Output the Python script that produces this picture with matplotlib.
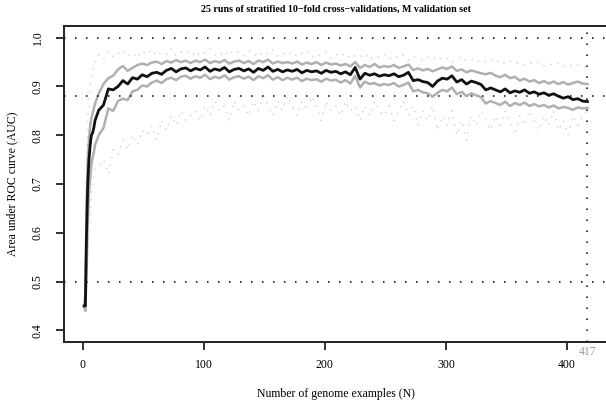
import numpy as np
import matplotlib
matplotlib.use("Agg")
import matplotlib.pyplot as plt

plt.rcParams['font.family'] = ['Liberation Serif', 'DejaVu Serif']

# number of genome examples: first ten one by one, then every 4th
n_early = [1, 2, 3, 4, 5, 6, 7, 8, 9, 10]
n_late = list(range(13, 418, 4))
n_examples = np.array(n_early + n_late)

auc_mean = [
    0.45, 0.45, 0.60, 0.70, 0.75, 0.78, 0.80, 0.805, 0.815, 0.83,
    0.851, 0.862, 0.895, 0.893, 0.900, 0.912, 0.905, 0.918, 0.915, 0.924,
    0.920, 0.927, 0.929, 0.925, 0.933, 0.937, 0.930, 0.936, 0.938, 0.932,
    0.937, 0.934, 0.940, 0.931, 0.936, 0.933, 0.939, 0.930, 0.935, 0.937,
    0.932, 0.936, 0.929, 0.937, 0.933, 0.940, 0.931, 0.935, 0.930, 0.934,
    0.931, 0.935, 0.928, 0.933, 0.930, 0.932, 0.927, 0.933, 0.929, 0.931,
    0.926, 0.930, 0.924, 0.939, 0.915, 0.927, 0.923, 0.926, 0.921, 0.924,
    0.922, 0.926, 0.920, 0.923, 0.929, 0.912, 0.914, 0.910, 0.908, 0.900,
    0.911, 0.917, 0.915, 0.922, 0.909, 0.914, 0.905, 0.911, 0.908, 0.904,
    0.893, 0.897, 0.893, 0.889, 0.895, 0.887, 0.891, 0.888, 0.893, 0.886,
    0.889, 0.884, 0.887, 0.882, 0.885, 0.880, 0.876, 0.879, 0.873, 0.875,
    0.870, 0.869]

auc_upper = [
    0.45, 0.47, 0.66, 0.75, 0.79, 0.82, 0.835, 0.845, 0.855, 0.865,
    0.885, 0.905, 0.917, 0.922, 0.935, 0.942, 0.932, 0.938, 0.944, 0.947,
    0.944, 0.949, 0.951, 0.946, 0.952, 0.949, 0.954, 0.950, 0.953, 0.948,
    0.953, 0.950, 0.955, 0.948, 0.952, 0.949, 0.954, 0.947, 0.951, 0.953,
    0.948, 0.952, 0.946, 0.953, 0.950, 0.955, 0.947, 0.951, 0.948, 0.950,
    0.947, 0.951, 0.945, 0.949, 0.946, 0.950, 0.944, 0.949, 0.945, 0.947,
    0.943, 0.946, 0.941, 0.950, 0.938, 0.944, 0.940, 0.946, 0.939, 0.942,
    0.940, 0.944, 0.938, 0.941, 0.945, 0.934, 0.937, 0.933, 0.936, 0.931,
    0.935, 0.939, 0.936, 0.941, 0.932, 0.935, 0.929, 0.933, 0.930, 0.927,
    0.925, 0.928, 0.922, 0.919, 0.924, 0.917, 0.920, 0.912, 0.916, 0.910,
    0.913, 0.907, 0.911, 0.906, 0.910, 0.905, 0.909, 0.904, 0.907, 0.910,
    0.906, 0.905]

auc_lower = [
    0.45, 0.44, 0.52, 0.62, 0.68, 0.71, 0.74, 0.755, 0.765, 0.78,
    0.800, 0.815, 0.855, 0.850, 0.870, 0.875, 0.872, 0.890, 0.893, 0.902,
    0.900, 0.908, 0.912, 0.907, 0.915, 0.918, 0.913, 0.920, 0.922, 0.916,
    0.921, 0.918, 0.924, 0.915, 0.920, 0.917, 0.923, 0.914, 0.919, 0.921,
    0.916, 0.920, 0.913, 0.921, 0.917, 0.923, 0.914, 0.919, 0.913, 0.918,
    0.914, 0.918, 0.911, 0.916, 0.913, 0.915, 0.910, 0.916, 0.912, 0.914,
    0.908, 0.913, 0.906, 0.922, 0.898, 0.910, 0.905, 0.907, 0.902, 0.905,
    0.903, 0.907, 0.900, 0.903, 0.908, 0.890, 0.893, 0.888, 0.886, 0.879,
    0.887, 0.893, 0.890, 0.898, 0.884, 0.889, 0.880, 0.886, 0.882, 0.878,
    0.865, 0.870, 0.866, 0.862, 0.869, 0.860, 0.866, 0.862, 0.867, 0.860,
    0.864, 0.859, 0.862, 0.857, 0.861, 0.855, 0.858, 0.856, 0.852, 0.857,
    0.855, 0.856]

auc_max = [
    0.45, 0.50, 0.74, 0.84, 0.88, 0.90, 0.92, 0.93, 0.94, 0.95,
    0.965, 0.955, 0.972, 0.960, 0.968, 0.975, 0.962, 0.970, 0.958, 0.972,
    0.965, 0.976, 0.962, 0.970, 0.966, 0.978, 0.963, 0.971, 0.967, 0.974,
    0.961, 0.972, 0.968, 0.977, 0.964, 0.970, 0.962, 0.975, 0.966, 0.971,
    0.963, 0.974, 0.968, 0.960, 0.972, 0.966, 0.975, 0.962, 0.969, 0.964,
    0.971, 0.961, 0.968, 0.973, 0.960, 0.967, 0.962, 0.970, 0.958, 0.966,
    0.962, 0.969, 0.957, 0.964, 0.960, 0.968, 0.955, 0.963, 0.959, 0.966,
    0.956, 0.963, 0.958, 0.965, 0.954, 0.961, 0.957, 0.952, 0.960, 0.955,
    0.962, 0.953, 0.958, 0.950, 0.957, 0.961, 0.952, 0.956, 0.949, 0.955,
    0.951, 0.957, 0.948, 0.954, 0.946, 0.952, 0.947, 0.950, 0.944, 0.949,
    0.945, 0.950, 0.942, 0.947, 0.943, 0.948, 0.941, 0.946, 0.940, 0.944,
    0.942, 0.938]

auc_min = [
    0.45, 0.45, 0.48, 0.56, 0.60, 0.64, 0.68, 0.70, 0.72, 0.73,
    0.735, 0.75, 0.72, 0.77, 0.76, 0.79, 0.77, 0.80, 0.78, 0.81,
    0.80, 0.82, 0.79, 0.83, 0.81, 0.84, 0.82, 0.85, 0.83, 0.84,
    0.85, 0.83, 0.86, 0.84, 0.87, 0.85, 0.86, 0.83, 0.87, 0.85,
    0.86, 0.84, 0.87, 0.85, 0.88, 0.86, 0.84, 0.87, 0.85, 0.88,
    0.86, 0.84, 0.87, 0.85, 0.88, 0.86, 0.83, 0.87, 0.85, 0.86,
    0.84, 0.87, 0.85, 0.86, 0.83, 0.86, 0.84, 0.87, 0.85, 0.84,
    0.86, 0.83, 0.85, 0.87, 0.84, 0.86, 0.82, 0.85, 0.83, 0.86,
    0.81, 0.84, 0.82, 0.85, 0.80, 0.83, 0.79, 0.84, 0.82, 0.85,
    0.83, 0.81, 0.84, 0.82, 0.85, 0.83, 0.80, 0.84, 0.82, 0.85,
    0.83, 0.81, 0.84, 0.82, 0.85, 0.81, 0.83, 0.80, 0.84, 0.82,
    0.84, 0.85]

ref_levels = [1.0, 0.88, 0.5]
n_total = 417
x_ticks = [0, 100, 200, 300, 400]
y_ticks = [0.4, 0.5, 0.6, 0.7, 0.8, 0.9, 1.0]

fig = plt.figure(figsize=(6.06, 4.04), dpi=100)
ax = fig.add_axes([64 / 606, 1 - 342 / 404, 543.6 / 606, 316 / 404])

dots = (0, (1, 6.2))
faint = (0, (1, 4.5))
ax.plot(n_examples, auc_max, color='#d0d0d0', lw=1.0, linestyle=faint)
ax.plot(n_examples, auc_min, color='#d0d0d0', lw=1.0, linestyle=faint)
ax.plot(n_examples, auc_upper, color='#b0b0b0', lw=1.8)
ax.plot(n_examples, auc_lower, color='#b0b0b0', lw=1.8)
ax.plot(n_examples, auc_mean, color='#111111', lw=2.0)

for lev in ref_levels:
    ax.axhline(lev, color='black', lw=1.1, linestyle=dots)
ax.axvline(n_total, color='black', lw=1.1, linestyle=dots)

ax.set_xlim(-15.64, 433.64)
ax.set_ylim(0.376, 1.024)
ax.set_xticks(x_ticks)
ax.set_yticks(y_ticks)
ax.set_xticklabels([str(t) for t in x_ticks])
ax.set_yticklabels(['%.1f' % t for t in y_ticks], rotation=90, va='center')
ax.tick_params(axis='both', direction='out', length=5.5, width=1.3,
               labelsize=8.5, color='#222222')
ax.tick_params(axis='x', pad=7)
ax.tick_params(axis='y', pad=9)
for s in ax.spines.values():
    s.set_linewidth(1.4)
    s.set_color('#222222')

ax.annotate(str(n_total), xy=(n_total, 0), xycoords=('data', 'axes fraction'),
            xytext=(0, -3), textcoords='offset points', ha='center', va='top',
            fontsize=8.5, color='#999999')

ax.set_title('25 runs of stratified 10\u2212fold cross\u2212validations, M validation set',
             fontsize=7.2, fontweight='bold', pad=10)
fig.text(335.5 / 606, 1 - 394 / 404, 'Number of genome examples (N)',
         ha='center', va='center', fontsize=8.5)
fig.text(12 / 606, 1 - 184 / 404, 'Area under ROC curve (AUC)',
         ha='center', va='center', rotation=90, fontsize=8.5)

fig.savefig('out.png', dpi=100)
